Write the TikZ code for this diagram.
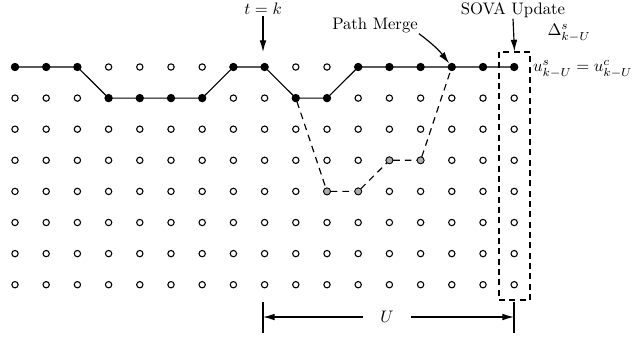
\documentclass[tikz,border=0pt]{standalone}
\usetikzlibrary{arrows.meta}
\begin{document}
\begin{tikzpicture}[x=0.6pt,y=-0.6pt,
  opendot/.style={circle,draw,fill=white,line width=0.65pt,minimum size=3.8pt,inner sep=0pt},
  survdot/.style={circle,fill=black,minimum size=5pt,inner sep=0pt},
  compdot/.style={circle,draw,line width=0.5pt,fill=gray!65,minimum size=4.2pt,inner sep=0pt},
  survpath/.style={line width=0.7pt},
  comppath/.style={line width=0.7pt,dash pattern=on 4pt off 3pt},
  pointer/.style={line width=0.7pt,-{Latex[length=7pt,width=4pt]}},
  label/.style={inner sep=0.5pt,font=\normalsize}]
\useasboundingbox (0,0) rectangle (639,341);

% trellis grid: 17 stages x 8 states
\foreach \i in {0,...,16}{
  \foreach \j in {0,...,7}{
    \node[opendot] (n-\i-\j) at ({15+31.2*\i},{67+31.1*\j}) {};
  }
}

% survivor path
\draw[survpath] (n-0-0) -- (n-1-0) -- (n-2-0) -- (n-3-1) -- (n-4-1) -- (n-5-1)
  -- (n-6-1) -- (n-7-0) -- (n-8-0) -- (n-9-1) -- (n-10-1) -- (n-11-0) -- (n-12-0)
  -- (n-13-0) -- (n-14-0) -- (n-15-0) -- (n-16-0);

% competing path that merges back
\draw[comppath] (n-9-1) -- (n-10-4) -- (n-11-4) -- (n-12-3) -- (n-13-3) -- (n-14-0);

\foreach \i/\j in {0/0,1/0,2/0,3/1,4/1,5/1,6/1,7/0,8/0,9/1,10/1,11/0,12/0,13/0,14/0,15/0,16/0}{
  \node[survdot] (s-\i) at (n-\i-\j.center) {};
}
\foreach \i/\j in {10/4,11/4,12/3,13/3}{
  \node[compdot] (c-\i) at (n-\i-\j.center) {};
}

% update window
\node[draw,line width=0.65pt,dash pattern=on 3.6pt off 2.6pt,
  minimum width=18.6pt,minimum height=148.8pt,inner sep=0pt] (win) at (514.5,176) {};

% annotations
\node[label] (tk) at (263,9) {$t=k$};
\coordinate (tkend) at (263,52);
\draw[pointer] (tk.south) -- (tkend);

\node[label] (sova) at (513,10) {SOVA Update};
\draw[pointer] (sova.south) -- (win.north);

\node[label] (pm) at (375,25) {Path Merge};
\draw[pointer] (pm.south east) to[bend left=8] (s-14);

\node[label] (delta) at (569,33) {$\Delta^{s}_{k-U}$};
\node[label,anchor=west] (ueq) at (532,69) {$u^{s}_{k-U}=u^{c}_{k-U}$};

% window length
\coordinate (la) at (263,302);
\coordinate (lb) at (263,333);
\coordinate (ra) at (514,302);
\coordinate (rb) at (514,333);
\draw[line width=0.7pt] (la) -- (lb);
\draw[line width=0.7pt] (ra) -- (rb);
\coordinate (lm) at (263,317);
\coordinate (rm) at (514,317);
\node[label,inner xsep=10pt] (U) at (387,317) {$U$};
\draw[pointer] (U.west) -- (lm);
\draw[pointer] (U.east) -- (rm);
\end{tikzpicture}
\end{document}
